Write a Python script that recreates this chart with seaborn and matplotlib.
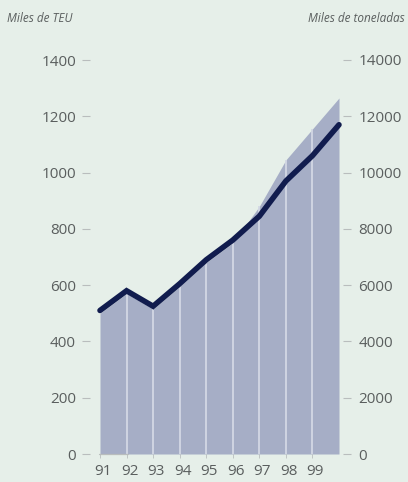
import matplotlib
matplotlib.use("Agg")
import matplotlib.pyplot as plt
import matplotlib.transforms as mtransforms
import seaborn as sns
import pandas as pd
import numpy as np

# ---- data ----
years = ["91", "92", "93", "94", "95", "96", "97", "98", "99", "00"]
tick_labels = ["91", "92", "93", "94", "95", "96", "97", "98", "99"]
teu = [510, 580, 525, 605, 690, 760, 845, 970, 1060, 1170]          # Miles de TEU
toneladas = [5000, 5700, 5150, 5950, 6800, 7500, 8800, 10450, 11550, 12650]  # Miles de toneladas
left_ticks = [0, 200, 400, 600, 800, 1000, 1200, 1400]
right_ticks = [0, 2000, 4000, 6000, 8000, 10000, 12000, 14000]

df = pd.DataFrame({"pos": np.arange(len(years)), "year": years,
                   "teu": teu, "ton": toneladas})

sns.set_theme(style="white")
plt.rcParams["font.family"] = ["Open Sans", "DejaVu Sans"]

BG = "#e6efe9"
AREA = "#a6aec6"
LINE = "#111c4e"
TXT = "#5a5e5e"
TICK = "#b9bdbd"

W, H = 408, 482
fig = plt.figure(figsize=(W / 100, H / 100), dpi=100, facecolor=BG)
ax_l, ax_r, ax_b, ax_t = 90, 343, 454, 60
ax = fig.add_axes([ax_l / W, 1 - ax_b / H, (ax_r - ax_l) / W, (ax_b - ax_t) / H])
ax2 = ax.twinx()

# area on right (tonnes) axis
ax2.fill_between(df["pos"], 0, df["ton"], color=AREA, lw=0, zorder=1)
ax2.vlines(df["pos"][1:-1], 0, df["ton"][1:-1], color="#d3d8e4", lw=1.3, zorder=2)

# TEU line on left axis, drawn above
sns.lineplot(data=df, x="pos", y="teu", ax=ax, color=LINE, lw=4.0,
             solid_joinstyle="miter", zorder=5)
ax.set_zorder(ax2.get_zorder() + 1)
ax.patch.set_visible(False)
ax2.patch.set_visible(False)

span = 9 / (339 - 100)
ax.set_xlim(-(100 - ax_l) * span, 9 + (ax_r - 339) * span)
ax.set_ylim(0, 1400)
ax2.set_ylim(0, 14000)

ax.set_xticks(range(len(tick_labels)))
ax.set_xticklabels(tick_labels)
ax.set_yticks(left_ticks)
ax2.set_yticks(right_ticks)
ax.set_xlabel("")
ax.set_ylabel("")

for a in (ax, ax2):
    for s in a.spines.values():
        s.set_visible(False)

ax.tick_params(axis="y", which="both", left=True, right=False, length=6, width=0.8,
               color=TICK, labelcolor=TXT, labelsize=11, pad=4)
ax2.tick_params(axis="y", which="both", right=True, left=False, length=6, width=0.8,
                color=TICK, labelcolor=TXT, labelsize=11, pad=5)
ax.tick_params(axis="x", bottom=True, length=3, width=0.6, color=TICK,
               labelcolor=TXT, labelsize=11, pad=4)

# shift x labels slightly right as in the reference
offset = mtransforms.ScaledTranslation(3 / 100, 0, fig.dpi_scale_trans)
for lbl in ax.get_xticklabels():
    lbl.set_transform(lbl.get_transform() + offset)

# baseline
ax.plot([-0.02, 1.05], [0, 0], transform=ax.get_xaxis_transform(), color=TICK,
        lw=0.9, clip_on=False, zorder=0)

fig.text(7 / W, 1 - 18 / H, "Miles de TEU", ha="left", va="center",
         fontsize=8.5, style="italic", color=TXT)
fig.text(405 / W, 1 - 18 / H, "Miles de toneladas", ha="right", va="center",
         fontsize=8.5, style="italic", color=TXT)

fig.savefig("out.png", dpi=100, facecolor=BG)
